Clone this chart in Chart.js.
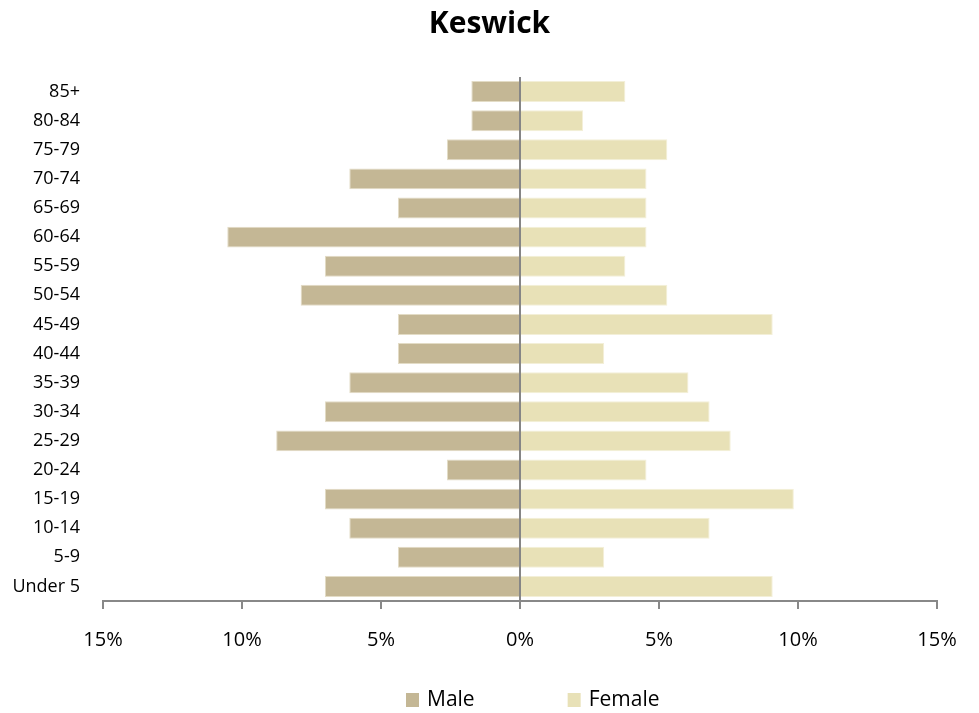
<!DOCTYPE html>
<html>
<head>
<meta charset="utf-8">
<script src="https://cdn.jsdelivr.net/npm/chart.js@4/dist/chart.umd.min.js"></script>
<style>
  html, body { margin: 0; padding: 0; background: #fff; }
  #wrap { width: 979px; height: 713px; }
</style>
</head>
<body>
<div id="wrap"><canvas id="pyramid"></canvas></div>
<script>
// age groups, top to bottom
const ageGroups = ['85+', '80-84', '75-79', '70-74', '65-69', '60-64', '55-59', '50-54', '45-49',
  '40-44', '35-39', '30-34', '25-29', '20-24', '15-19', '10-14', '5-9', 'Under 5'];
// % of males / females in each group
const maleShare = [1.75, 1.75, 2.63, 6.14, 4.39, 10.53, 7.02, 7.89, 4.39,
  4.39, 6.14, 7.02, 8.77, 2.63, 7.02, 6.14, 4.39, 7.02];
const femaleShare = [3.79, 2.27, 5.30, 4.55, 4.55, 4.55, 3.79, 5.30, 9.09,
  3.03, 6.06, 6.82, 7.58, 4.55, 9.85, 6.82, 3.03, 9.09];
const xTicks = [-15, -10, -5, 0, 5, 10, 15];

const FONT = "'Open Sans', sans-serif";

// legend drawn under the axis, Excel style (wide gap between the two items)
const bottomLegend = {
  id: 'bottomLegend',
  afterDraw(chart) {
    const c = chart.ctx;
    const y = 700;
    let x = chart.scales.x.getPixelForValue(0) - 114;
    c.save();
    c.font = '21px ' + FONT;
    c.textBaseline = 'middle';
    c.textAlign = 'left';
    chart.data.datasets.forEach(ds => {
      c.fillStyle = ds.backgroundColor;
      c.fillRect(x, y - 7, 13, 14);
      c.fillStyle = '#000';
      c.fillText(ds.label, x + 21, y);
      x += 21 + c.measureText(ds.label).width + 93;
    });
    c.restore();
  }
};

const ctx = document.getElementById('pyramid').getContext('2d');
new Chart(ctx, {
  type: 'bar',
  data: {
    labels: ageGroups,
    datasets: [{
      label: 'Male',
      data: maleShare.map(v => -v),
      backgroundColor: '#C4B795',
      borderColor: '#E3DCC6',
      borderWidth: 1,
      barPercentage: 0.72,
      categoryPercentage: 1
    }, {
      label: 'Female',
      data: femaleShare,
      backgroundColor: '#E8E1B7',
      borderColor: '#F3EFD8',
      borderWidth: 1,
      barPercentage: 0.72,
      categoryPercentage: 1
    }]
  },
  options: {
    indexAxis: 'y',
    responsive: true,
    maintainAspectRatio: false,
    animation: false,
    layout: { padding: { left: 0, right: 0, top: 0, bottom: 52 } },
    plugins: {
      title: {
        display: true,
        text: 'Keswick',
        color: '#000',
        font: { family: FONT, size: 30, weight: 'bold' },
        padding: { top: 6, bottom: 35 }
      },
      legend: { display: false },
      tooltip: { enabled: false }
    },
    scales: {
      x: {
        stacked: true,
        min: -15,
        max: 15,
        afterBuildTicks: axis => { axis.ticks = xTicks.map(v => ({ value: v })); },
        afterFit: axis => { axis.height = 60; },
        ticks: {
          color: '#000',
          font: { family: FONT, size: 20 },
          padding: 19,
          callback: v => Math.abs(v) + '%'
        },
        border: { display: true, color: '#888', width: 2 },
        grid: {
          drawOnChartArea: true,
          drawTicks: true,
          tickLength: 8,
          lineWidth: 2,
          color: c => c.tick && c.tick.value === 0 ? '#868686' : 'rgba(0,0,0,0)',
          tickColor: '#888'
        }
      },
      y: {
        stacked: true,
        afterFit: axis => { axis.width = 103; },
        ticks: {
          color: '#000',
          font: { family: FONT, size: 18 },
          padding: 15
        },
        border: { display: false },
        grid: { display: false }
      },
      yRight: {
        position: 'right',
        afterFit: axis => { axis.width = 42; },
        ticks: { display: false },
        border: { display: false },
        grid: { display: false }
      }
    }
  },
  plugins: [bottomLegend]
});
</script>
</body>
</html>
